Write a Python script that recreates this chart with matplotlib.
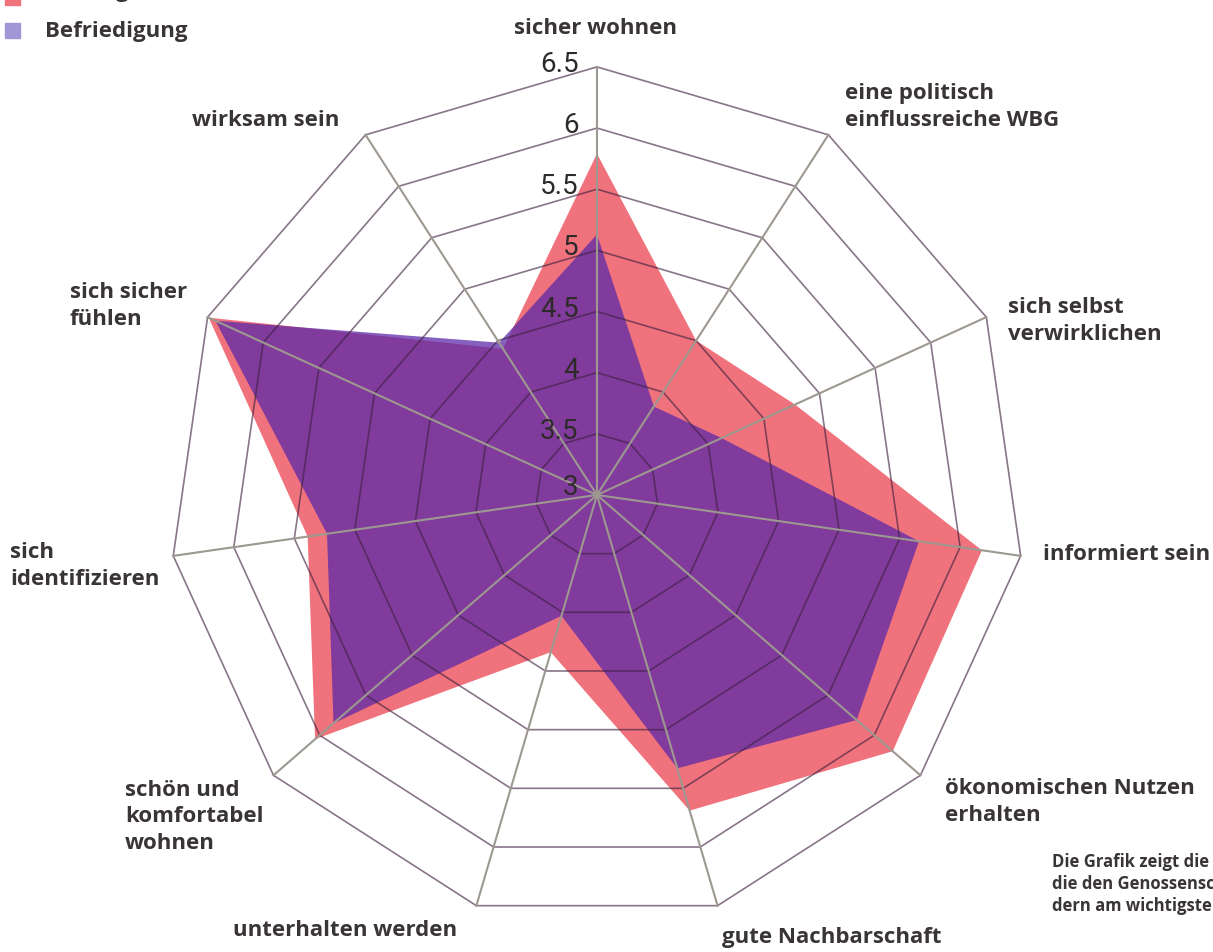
import numpy as np
import matplotlib.pyplot as plt
from matplotlib.patches import Rectangle

# Categories clockwise from the top
categories = [
    "sicher wohnen",
    "eine politisch\neinflussreiche WBG",
    "sich selbst\nverwirklichen",
    "informiert sein",
    "ökonomischen Nutzen\nerhalten",
    "gute Nachbarschaft",
    "unterhalten werden",
    "schön und\nkomfortabel\nwohnen",
    "sich\nidentifizieren",
    "sich sicher\nfühlen",
    "wirksam sein",
]
wichtigkeit = [5.79, 4.50, 4.78, 6.18, 6.20, 5.69, 4.34, 6.05, 5.39, 6.49, 4.42]
befriedigung = [5.13, 3.86, 4.12, 5.66, 5.81, 5.33, 4.03, 5.85, 5.23, 6.43, 4.48]
r_ticks = [3, 3.5, 4, 4.5, 5, 5.5, 6, 6.5]
r_min = 3

W, H = 1213, 952
n = len(categories)
theta = np.arange(n) * 2 * np.pi / n


def to_xy(values):
    r = np.asarray(values, dtype=float) - r_min
    return r * np.sin(theta), r * np.cos(theta)


fig = plt.figure(figsize=(W / 100, H / 100), dpi=100)
ax = fig.add_axes([0, 0, 1, 1])
ax.set_xlim(-4.881, 5.037)
ax.set_ylim(-3.737, 4.047)
ax.axis("off")

# data polygons
x, y = to_xy(wichtigkeit)
ax.fill(x, y, color="#f0727c", lw=0, zorder=1)
x, y = to_xy(befriedigung)
ax.fill(x, y, color="#5a28a8", alpha=0.74, lw=0, zorder=2)

# polygon rings
for t in r_ticks[1:]:
    x, y = to_xy([t] * n)
    ax.plot(np.append(x, x[0]), np.append(y, y[0]), color="#3e2040",
            alpha=0.62, lw=1.2, zorder=3)

# spokes
x, y = to_xy([r_ticks[-1]] * n)
for xi, yi in zip(x, y):
    ax.plot([0, xi], [0, yi], color="#9d9890", lw=1.5, zorder=4)

# radial tick labels
for t in r_ticks:
    ax.text(-0.15, t - r_min + (0.06 if t == 3 else 0.02), f"{t:g}",
            ha="right", va="center", fontsize=20, family="Roboto",
            weight="normal", color="#2e2a2a", zorder=5)

# category labels (pixel positions of the text blocks)
label_pos = [
    (595, 28, "center"),
    (845, 107, "left"),
    (1008, 321, "left"),
    (1043, 555, "left"),
    (945, 802, "left"),
    (722, 937, "left"),
    (233, 930, "left"),
    (125, 817, "left"),
    (10, 566, "left"),
    (70, 306, "left"),
    (192, 120, "left"),
]
for label, (px, py, ha) in zip(categories, label_pos):
    fig.text(px / W, 1 - py / H, label, ha=ha, va="center", fontsize=16,
             family="Open Sans", weight="bold", color="#3a3535",
             linespacing=1.35)

# legend (top left, first entry cut by the page edge)
fig.patches.append(Rectangle((5 / W, 1 - 5 / H), 15 / W, 15 / H,
                             transform=fig.transFigure, color="#f0727c"))
fig.text(45 / W, 1 + 8 / H, "Wichtigkeit", ha="left", va="center",
         fontsize=16, family="Open Sans", weight="bold", color="#3a3535")
fig.patches.append(Rectangle((5 / W, 1 - 38 / H), 15 / W, 15 / H,
                             transform=fig.transFigure, color="#a197d6"))
fig.text(45 / W, 1 - 31 / H, "Befriedigung", ha="left", va="center",
         fontsize=16, family="Open Sans", weight="bold", color="#3a3535")

# note text, bottom right (runs off the page as in the source)
fig.text(1052 / W, 1 - 884 / H,
         "Die Grafik zeigt die\ndie den Genossenschaftsmitglie-\ndern am wichtigsten",
         ha="left", va="center", fontsize=12, family="Open Sans",
         weight="bold", color="#3a3535", linespacing=1.3)

fig.savefig("out.png", dpi=100)
